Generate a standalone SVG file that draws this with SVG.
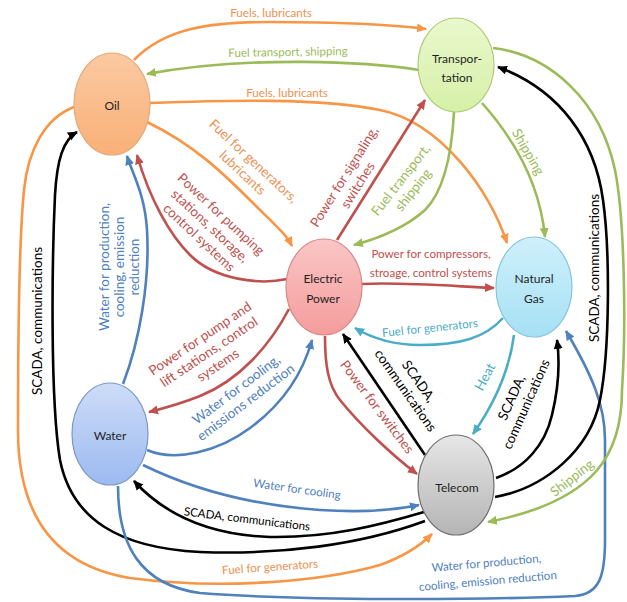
<svg xmlns="http://www.w3.org/2000/svg" width="627" height="602" viewBox="0 0 627 602">
  <style>
    .node ellipse { stroke-width: 1.2; }
    .nl { font-family: Lato, "Liberation Sans", sans-serif; font-size: 12px; fill: #1e1e1e; text-anchor: middle; }
    .edge { fill: none; stroke-width: 2.6; }
    .or { stroke: #F79646; } .gr { stroke: #9BBB59; } .rd { stroke: #C0504D; }
    .bl { stroke: #4F81BD; } .tl { stroke: #4BACC6; } .bk { stroke: #000; }
    .lab { font-family: Lato, "Liberation Sans", sans-serif; font-size: 11.6px; text-anchor: middle; }
    .big { font-size: 13.5px; }
    .lor { fill: #EE9050; } .lgr { fill: #9BBB59; } .lrd { fill: #C0504D; }
    .lbl { fill: #4F81BD; } .ltl { fill: #4BACC6; } .lbk { fill: #000; }
  </style>
  <defs>
    <marker id="a-or" viewBox="0 0 10 10" refX="9" refY="5" markerWidth="10" markerHeight="10" markerUnits="userSpaceOnUse" orient="auto"><path d="M0,0.5 L10,5 L0,9.5 z" fill="#F79646"/></marker>
    <marker id="a-gr" viewBox="0 0 10 10" refX="9" refY="5" markerWidth="10" markerHeight="10" markerUnits="userSpaceOnUse" orient="auto"><path d="M0,0.5 L10,5 L0,9.5 z" fill="#9BBB59"/></marker>
    <marker id="a-rd" viewBox="0 0 10 10" refX="9" refY="5" markerWidth="10" markerHeight="10" markerUnits="userSpaceOnUse" orient="auto"><path d="M0,0.5 L10,5 L0,9.5 z" fill="#C0504D"/></marker>
    <marker id="a-bl" viewBox="0 0 10 10" refX="9" refY="5" markerWidth="10" markerHeight="10" markerUnits="userSpaceOnUse" orient="auto"><path d="M0,0.5 L10,5 L0,9.5 z" fill="#4F81BD"/></marker>
    <marker id="a-tl" viewBox="0 0 10 10" refX="9" refY="5" markerWidth="10" markerHeight="10" markerUnits="userSpaceOnUse" orient="auto"><path d="M0,0.5 L10,5 L0,9.5 z" fill="#4BACC6"/></marker>
    <marker id="a-bk" viewBox="0 0 10 10" refX="9" refY="5" markerWidth="10" markerHeight="10" markerUnits="userSpaceOnUse" orient="auto"><path d="M0,0.5 L10,5 L0,9.5 z" fill="#000"/></marker>
    <linearGradient id="g-oil" x1="0" y1="0" x2="0" y2="1"><stop offset="0" stop-color="#FBC9A2"/><stop offset="1" stop-color="#F9B078"/></linearGradient>
    <linearGradient id="g-tr" x1="0" y1="0" x2="0" y2="1"><stop offset="0" stop-color="#EAF8CC"/><stop offset="1" stop-color="#D6F0A8"/></linearGradient>
    <linearGradient id="g-ep" x1="0" y1="0" x2="0" y2="1"><stop offset="0" stop-color="#FAC6C6"/><stop offset="1" stop-color="#F49C9C"/></linearGradient>
    <linearGradient id="g-ng" x1="0" y1="0" x2="0" y2="1"><stop offset="0" stop-color="#CFF0FB"/><stop offset="1" stop-color="#A6E0F4"/></linearGradient>
    <linearGradient id="g-wa" x1="0" y1="0" x2="0" y2="1"><stop offset="0" stop-color="#CEDCF8"/><stop offset="1" stop-color="#9CBAF0"/></linearGradient>
    <linearGradient id="g-te" x1="0" y1="0" x2="0" y2="1"><stop offset="0" stop-color="#E6E6E6"/><stop offset="1" stop-color="#B4B4B4"/></linearGradient>
  </defs>

  <rect width="627" height="602" fill="#fff"/>

  <!-- connectors -->
  <g id="connectors">
    <path class="edge or" marker-end="url(#a-or)" d="M134,60 C165,28 210,22 270,22 C340,22 395,25 426,29"/>
    <path class="edge gr" marker-end="url(#a-gr)" d="M419,70 C370,62 250,55 147,74"/>
    <path class="edge or" marker-end="url(#a-or)" d="M150,103 C230,100 320,98 380,110 C440,122 490,190 507,243"/>
    <path class="edge or" marker-end="url(#a-or)" d="M147,122 C195,145 225,175 255,205 C272,222 286,234 292,246"/>
    <path class="edge rd" marker-end="url(#a-rd)" d="M287,279 C260,285 215,280 190,255 C170,235 150,200 137,155"/>
    <path class="edge bl" marker-end="url(#a-bl)" d="M123,384 C140,340 150,280 147,230 C145,195 133,175 127,156"/>
    <path class="edge rd" marker-end="url(#a-rd)" d="M289,309 C270,345 240,380 200,396 C180,404 165,408 149,412"/>
    <path class="edge bl" marker-end="url(#a-bl)" d="M147,450 C175,462 218,452 250,428 C280,406 302,376 312,340"/>
    <path class="edge rd" marker-end="url(#a-rd)" d="M337,240 L425,100"/>
    <path class="edge gr" marker-end="url(#a-gr)" d="M454,112 C452,150 445,190 425,210 C405,228 380,238 354,245"/>
    <path class="edge gr" marker-end="url(#a-gr)" d="M482,103 C515,140 540,185 545,237"/>
    <path class="edge rd" marker-end="url(#a-rd)" d="M362,284 C400,282 450,286 494,288"/>
    <path class="edge tl" marker-end="url(#a-tl)" d="M503,318 C485,338 460,345 420,345 C390,345 370,337 355,328"/>
    <path class="edge tl" marker-end="url(#a-tl)" d="M514,335 C510,365 497,400 473,434"/>
    <path class="edge bk" marker-end="url(#a-bk)" d="M496,478 C525,468 545,445 552,415 C558,390 560,362 557,340"/>
    <path class="edge bk" marker-end="url(#a-bk)" d="M425,455 L343,334"/>
    <path class="edge rd" marker-end="url(#a-rd)" d="M325,336 C325,365 328,385 340,400 C360,425 392,455 417,474"/>
    <path class="edge bl" marker-end="url(#a-bl)" d="M143,465 C190,488 250,505 320,510 C365,513 395,510 419,505"/>
    <path class="edge bk" marker-end="url(#a-bk)" d="M424,512 C380,525 330,538 270,537 C210,535 165,515 134,481"/>
    <path class="edge bk" marker-end="url(#a-bk)" d="M425,521 C360,545 280,555 200,552 C120,548 72,520 60,460 C50,400 52,260 55,195 C57,160 63,140 77,132"/>
    <path class="edge or" marker-end="url(#a-or)" d="M74,107 C45,118 28,150 24,190 C20,230 18,330 18,430 C18,510 50,565 130,578 C220,590 320,582 380,565 C405,556 420,546 432,534"/>
    <path class="edge bl" marker-end="url(#a-bl)" d="M118,486 C118,545 140,585 200,593 C300,601 480,600 575,596 C600,594 605,575 605,540 L605,440 C605,405 592,375 566,331"/>
    <path class="edge gr" marker-end="url(#a-gr)" d="M493,48 C550,55 600,100 615,170 C625,220 626,330 622,390 C622,450 600,500 488,522"/>
    <path class="edge bk" marker-end="url(#a-bk)" d="M495,497 C545,488 590,450 600,400 C610,350 610,250 603,200 C595,140 560,90 498,67"/>

    <!-- connector labels -->
    <text class="lab lor" x="271" y="16.5">Fuels, lubricants</text>
    <text class="lab lgr" transform="translate(288,52) rotate(-1)"><tspan x="0" y="4">Fuel transport, shipping</tspan></text>
    <text class="lab lor" x="287" y="97">Fuels, lubricants</text>
    <text class="lab big lor" transform="translate(248,167) rotate(43)"><tspan x="0" y="-3.5">Fuel for generators,</tspan><tspan x="0" y="12.5">lubricants</tspan></text>
    <text class="lab big lrd" transform="translate(210,226) rotate(43)"><tspan x="0" y="-11.5">Power for pumping</tspan><tspan x="0" y="4.5">stations, storage,</tspan><tspan x="0" y="20.5">control systems</tspan></text>
    <text class="lab big lbl" transform="translate(119,267) rotate(-90)"><tspan x="0" y="-10.5">Water for production,</tspan><tspan x="0" y="4.5">cooling, emission</tspan><tspan x="0" y="19.5">reduction</tspan></text>
    <text class="lab big lrd" transform="translate(209,352) rotate(-34)"><tspan x="0" y="-11.5">Power for pump and</tspan><tspan x="0" y="4.5">lift stations, control</tspan><tspan x="0" y="20.5">systems</tspan></text>
    <text class="lab big lbl" transform="translate(241,396) rotate(-37)"><tspan x="0" y="-3.5">Water for cooling,</tspan><tspan x="0" y="12.5">emissions reduction</tspan></text>
    <text class="lab big lrd" transform="translate(351,181) rotate(-58)"><tspan x="0" y="-3.5">Power for signaling,</tspan><tspan x="0" y="12.5">switches</tspan></text>
    <text class="lab big lgr" transform="translate(407,185) rotate(-52)"><tspan x="0" y="-3.5">Fuel transport,</tspan><tspan x="0" y="12.5">shipping</tspan></text>
    <text class="lab big lgr" transform="translate(528,152) rotate(60)"><tspan x="0" y="4.5">Shipping</tspan></text>
    <text class="lab lrd"><tspan x="431" y="258">Power for compressors,</tspan><tspan x="431" y="277">stroage, control systems</tspan></text>
    <text class="lab ltl" transform="translate(430,328) rotate(-6)"><tspan x="0" y="4">Fuel for generators</tspan></text>
    <text class="lab big ltl" transform="translate(485,377) rotate(-62)"><tspan x="0" y="4.5">Heat</tspan></text>
    <text class="lab big lbk" transform="translate(519,401) rotate(-66)"><tspan x="0" y="-3.5">SCADA,</tspan><tspan x="0" y="12.5">communications</tspan></text>
    <text class="lab big lbk" transform="translate(412,386) rotate(55)"><tspan x="0" y="-3.5">SCADA,</tspan><tspan x="0" y="12.5">communications</tspan></text>
    <text class="lab big lrd" transform="translate(377,407) rotate(53)"><tspan x="0" y="4.5">Power for switches</tspan></text>
    <text class="lab lbl" transform="translate(297,489) rotate(8)"><tspan x="0" y="4">Water for cooling</tspan></text>
    <text class="lab lbk" transform="translate(247,519) rotate(7)"><tspan x="0" y="4">SCADA, communications</tspan></text>
    <text class="lab big lbk" transform="translate(37,321) rotate(-90)"><tspan x="0" y="4.5">SCADA, communications</tspan></text>
    <text class="lab lor" transform="translate(270,567) rotate(-4)"><tspan x="0" y="4">Fuel for generators</tspan></text>
    <text class="lab lbl" transform="translate(487,571) rotate(-5)"><tspan x="0" y="-4">Water for production,</tspan><tspan x="0" y="14">cooling, emission reduction</tspan></text>
    <text class="lab big lgr" transform="translate(572,478) rotate(-38)"><tspan x="0" y="4.5">Shipping</tspan></text>
    <text class="lab big lbk" transform="translate(594,268) rotate(-90)"><tspan x="0" y="4.5">SCADA, communications</tspan></text>
  </g>

  <!-- nodes -->
  <g id="oil" class="node">
    <ellipse cx="112" cy="104" rx="38" ry="51" fill="url(#g-oil)" stroke="#E3A878"/>
    <text class="nl" x="112" y="110">Oil</text>
  </g>
  <g id="transportation" class="node">
    <ellipse cx="456" cy="65" rx="38" ry="47" fill="url(#g-tr)" stroke="#AECB7C"/>
    <text class="nl"><tspan x="457" y="63">Transpor-</tspan><tspan x="457" y="82">tation</tspan></text>
  </g>
  <g id="electric-power" class="node">
    <ellipse cx="324" cy="287" rx="38" ry="48" fill="url(#g-ep)" stroke="#D88888"/>
    <text class="nl"><tspan x="323" y="283">Electric</tspan><tspan x="323" y="303">Power</tspan></text>
  </g>
  <g id="natural-gas" class="node">
    <ellipse cx="534" cy="287" rx="38" ry="50" fill="url(#g-ng)" stroke="#84C4DA"/>
    <text class="nl"><tspan x="534" y="283">Natural</tspan><tspan x="534" y="303">Gas</tspan></text>
  </g>
  <g id="water" class="node">
    <ellipse cx="110" cy="434" rx="38" ry="51" fill="url(#g-wa)" stroke="#7898CC"/>
    <text class="nl" x="110" y="440">Water</text>
  </g>
  <g id="telecom" class="node">
    <ellipse cx="456" cy="485" rx="38" ry="50" fill="url(#g-te)" stroke="#6E6E6E"/>
    <text class="nl" x="457" y="492">Telecom</text>
  </g>
</svg>
